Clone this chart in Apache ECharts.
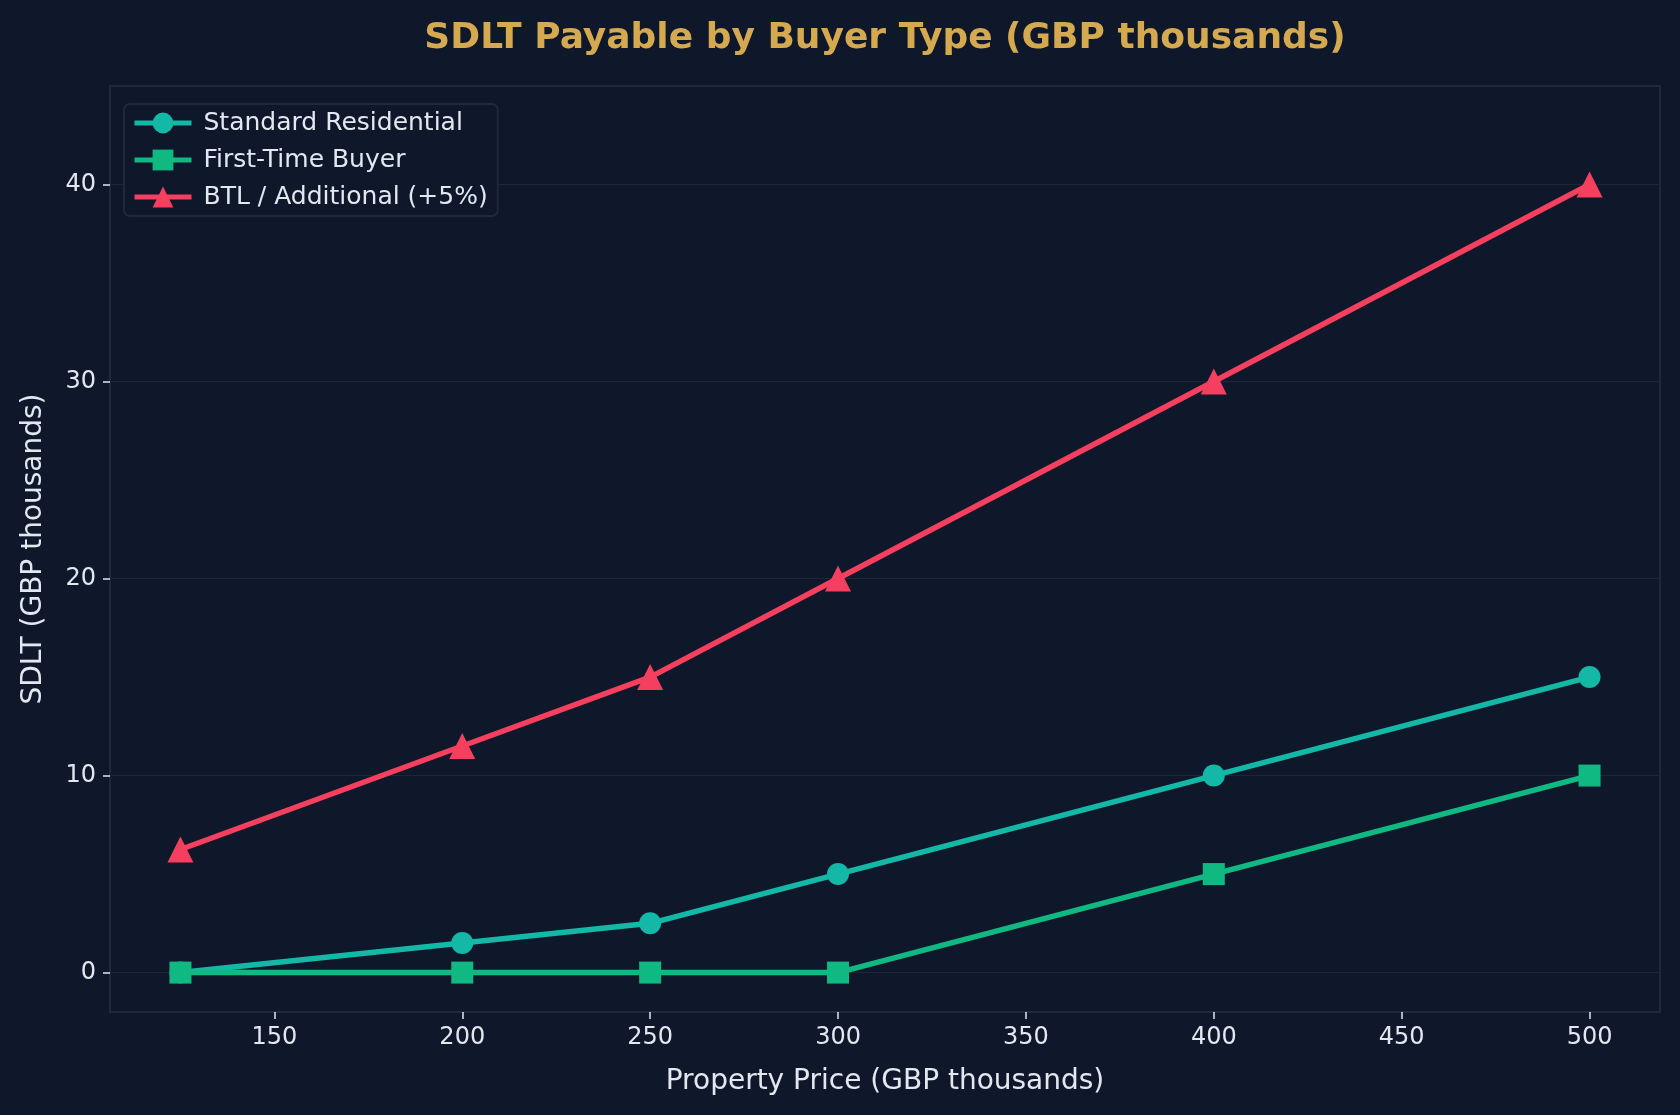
<!DOCTYPE html>
<html><head><meta charset="utf-8">
<script src="https://cdn.jsdelivr.net/npm/echarts@6/dist/echarts.min.js"></script>
<style>html,body{margin:0;padding:0;background:#0f172a}#c{width:1680px;height:1115px}</style>
</head><body><div id="c"></div>
<script>
const prices = [125, 200, 250, 300, 400, 500];
const standard = [0, 1.5, 2.5, 5, 10, 15];
const firstTime = [0, 0, 0, 0, 5, 10];
const btl = [6.25, 11.5, 15, 20, 30, 40];
const xTicks = [150, 200, 250, 300, 350, 400, 450, 500];
const yTicks = [0, 10, 20, 30, 40];

const txt = '#e2e8f0';
const font = 'DejaVu Sans';
function pairs(v){ return prices.map((p,i)=>[p, v[i]]); }
const chart = echarts.init(document.getElementById('c'), null, {renderer:'canvas'});
const grid = {left:110, right:20, top:86, bottom:103, show:true, borderColor:'#1e293b', borderWidth:2, backgroundColor:'transparent'};
chart.setOption({
  backgroundColor:'#0f172a',
  animation:false,
  title:{text:'SDLT Payable by Buyer Type (GBP thousands)', left:880, textAlign:'center', top:16,
    textStyle:{color:'#d4a94f', fontFamily:font, fontWeight:'bold', fontSize:36}},
  grid: grid,
  legend:{left:124, top:104, orient:'vertical', itemWidth:57, itemHeight:26, itemGap:11,
    padding:[6,10,6,8], backgroundColor:'#0f172a', borderColor:'#1e293b', borderWidth:2, borderRadius:6,
    lineStyle:{width:5},
    textStyle:{color:txt, fontFamily:font, fontSize:25, lineHeight:26, padding:[0,0,0,7]}},
  xAxis:{type:'value', min:106.25, max:518.75,
    name:'Property Price (GBP thousands)', nameLocation:'middle', nameGap:56,
    nameTextStyle:{color:txt, fontFamily:font, fontSize:28},
    axisLine:{show:false, onZero:false}, splitLine:{show:false},
    axisTick:{show:true, length:7, lineStyle:{color:txt, width:1.5}, customValues:xTicks},
    axisLabel:{color:txt, fontFamily:font, fontSize:24, margin:14, customValues:xTicks}},
  yAxis:{type:'value', min:-2, max:45,
    name:'SDLT (GBP thousands)', nameLocation:'middle', nameGap:62,
    nameTextStyle:{color:txt, fontFamily:font, fontSize:28},
    axisLine:{show:false, onZero:false}, splitLine:{show:false},
    axisTick:{show:true, length:7, lineStyle:{color:txt, width:1.5}, customValues:yTicks},
    axisLabel:{color:txt, fontFamily:font, fontSize:24, margin:14, customValues:yTicks}},
  series:[
    {name:'Grid', type:'line', data:[], silent:true, legendHoverLink:false, z:0,
      markLine:{silent:true, symbol:'none', label:{show:false}, z:0,
        lineStyle:{color:'#1c2639', width:1.2, type:'solid'},
        data: yTicks.map(v=>({yAxis:v}))}},
    {name:'Standard Residential', type:'line', data:pairs(standard), symbol:'circle', symbolSize:22,
      lineStyle:{width:5.5, color:'#14b8a6'}, itemStyle:{color:'#14b8a6'}, z:3},
    {name:'First-Time Buyer', type:'line', data:pairs(firstTime), symbol:'rect', symbolSize:22,
      lineStyle:{width:5.5, color:'#10b981'}, itemStyle:{color:'#10b981'}, z:4},
    {name:'BTL / Additional (+5%)', type:'line', data:pairs(btl), symbol:'triangle', symbolSize:26,
      lineStyle:{width:5.5, color:'#f43f5e'}, itemStyle:{color:'#f43f5e'}, z:5}
  ]
});
chart.setOption({legend:{data:['Standard Residential','First-Time Buyer','BTL / Additional (+5%)']}});
</script></body></html>
